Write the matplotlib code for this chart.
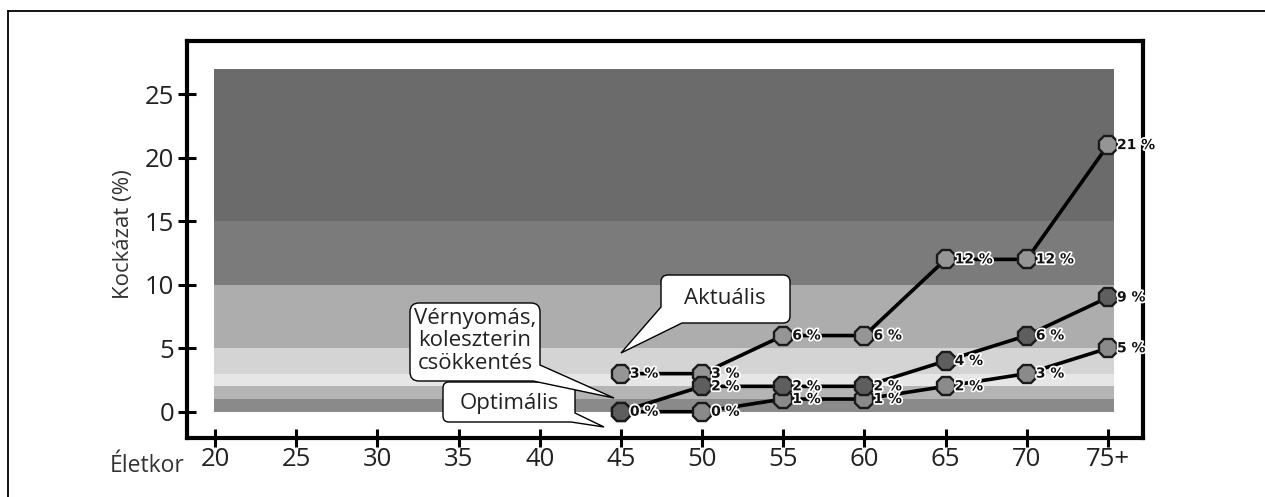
import matplotlib
matplotlib.use("Agg")
import matplotlib.pyplot as plt
import numpy as np
from matplotlib.patches import Rectangle, PathPatch
from matplotlib.path import Path
from matplotlib.lines import Line2D
import matplotlib.transforms as mtransforms
import matplotlib.patheffects as pe

# ---------------- data ----------------
ages = [45, 50, 55, 60, 65, 70, 75]
aktualis = [3, 3, 6, 6, 12, 12, 21]
vernyomas = [0, 2, 2, 2, 4, 6, 9]
optimalis = [0, 0, 1, 1, 2, 3, 5]

x_ticks = [20, 25, 30, 35, 40, 45, 50, 55, 60, 65, 70, 75]
x_ticklabels = ["20", "25", "30", "35", "40", "45", "50", "55", "60", "65", "70", "75+"]
y_ticks = [0, 5, 10, 15, 20, 25]

band_edges = [0, 1, 2, 3, 5, 10, 15, 27]
band_colors = ["#8a8a8a", "#b4b4b4", "#e6e6e6", "#d4d4d4", "#adadad", "#7b7b7b", "#6b6b6b"]
band_x = (19.95, 75.38)

W, H = 1265, 497
plt.rcParams['font.family'] = ['Open Sans', 'DejaVu Sans']

fig = plt.figure(figsize=(W / 100, H / 100), dpi=100)
ax = fig.add_axes([187 / W, (H - 438) / H, (1143 - 187) / W, (438 - 41) / H])
ax.set_xlim(18.275, 77.156)
ax.set_ylim(-2.07, 29.2)

# background bands
for lo, hi, c in zip(band_edges[:-1], band_edges[1:], band_colors):
    ax.add_patch(Rectangle((band_x[0], lo), band_x[1] - band_x[0], hi - lo,
                           facecolor=c, edgecolor='none', zorder=0))

series = [
    (aktualis, "#959595"),
    (optimalis, "#8a8a8a"),
    (vernyomas, "#5e5e5e"),
]
z = 3
for vals, col in series:
    ax.plot(ages, vals, color='black', lw=2.6, zorder=z)
    ax.plot(ages, vals, linestyle='none', marker='8', markersize=14,
            markerfacecolor=col, markeredgecolor='#1a1a1a', markeredgewidth=1.7, zorder=z + 0.5)
    for xv, yv in zip(ages, vals):
        ax.annotate(f"{yv} %", (xv, yv), xytext=(6.5, 0), textcoords='offset points',
                    ha='left', va='center', fontsize=10, fontweight='bold',
                    family='DejaVu Sans', color='#111111', zorder=z + 0.7,
                    path_effects=[pe.withStroke(linewidth=2.5, foreground='white')])
    z += 1

# axes styling
for s in ax.spines.values():
    s.set_linewidth(3.0)
    s.set_color('black')
ax.set_xticks(x_ticks)
ax.set_xticklabels(x_ticklabels)
ax.set_yticks(y_ticks)
ax.tick_params(axis='both', direction='inout', length=12.5, width=2.2, color='black',
               labelsize=18.5, labelcolor='#222222')
ax.tick_params(axis='y', pad=3.0)
ax.tick_params(axis='x', pad=0.5)

fig.text(124 / W, (H - 234) / H, "Kockázat (%)", rotation=90, ha='center', va='center',
         fontsize=16, color='#333333')
fig.text(185 / W, (H - 472) / H, "Életkor", ha='right', va='baseline',
         fontsize=16.5, color='#333333')

# outer border (top and left)
fig.add_artist(Line2D([8 / W, 1.0], [(H - 11) / H, (H - 11) / H], transform=fig.transFigure,
                      color='black', lw=1.3))
fig.add_artist(Line2D([8 / W, 8 / W], [(H - 11) / H, 0], transform=fig.transFigure,
                      color='black', lw=1.3))

# speech-bubble callouts (pixel layout coordinates)
pix = mtransforms.Affine2D().scale(1 / W, -1 / H).translate(0, 1) + fig.transFigure


def rounded_path(points, radii):
    verts, codes = [], []
    n = len(points)
    pts = [np.array(p, float) for p in points]
    for i in range(n):
        p, prev, nxt, r = pts[i], pts[i - 1], pts[(i + 1) % n], radii[i]
        if r == 0:
            verts.append(p)
            codes.append(Path.MOVETO if i == 0 else Path.LINETO)
        else:
            a = p + (prev - p) / np.linalg.norm(prev - p) * r
            b = p + (nxt - p) / np.linalg.norm(nxt - p) * r
            verts.append(a)
            codes.append(Path.MOVETO if i == 0 else Path.LINETO)
            verts += [p, b]
            codes += [Path.CURVE3, Path.CURVE3]
    verts.append(verts[0])
    codes.append(Path.CLOSEPOLY)
    return Path(verts, codes)


def bubble(points, radii, text, center, fs=16):
    patch = PathPatch(rounded_path(points, radii), transform=pix, facecolor='white',
                      edgecolor='black', lw=1.0, zorder=10)
    fig.add_artist(patch)
    fig.text(center[0] / W, (H - center[1]) / H, text, ha='center', va='center',
             fontsize=fs, color='#222222', zorder=11, linespacing=1.1)


bubble([(443, 382), (575, 382), (575, 413), (604, 427), (571, 422), (443, 422)],
       [6, 6, 0, 0, 0, 6], "Optimális", (509, 403))
bubble([(410, 303), (540, 303), (540, 365), (614, 398), (533, 381), (410, 381)],
       [9, 9, 0, 0, 0, 9], "Vérnyomás,\nkoleszterin\ncsökkentés", (475, 341))
bubble([(661, 275), (790, 275), (790, 323), (682, 323), (621, 353), (661, 307)],
       [7, 7, 7, 0, 0, 0], "Aktuális", (725, 298))

fig.savefig("out.png", dpi=100)
